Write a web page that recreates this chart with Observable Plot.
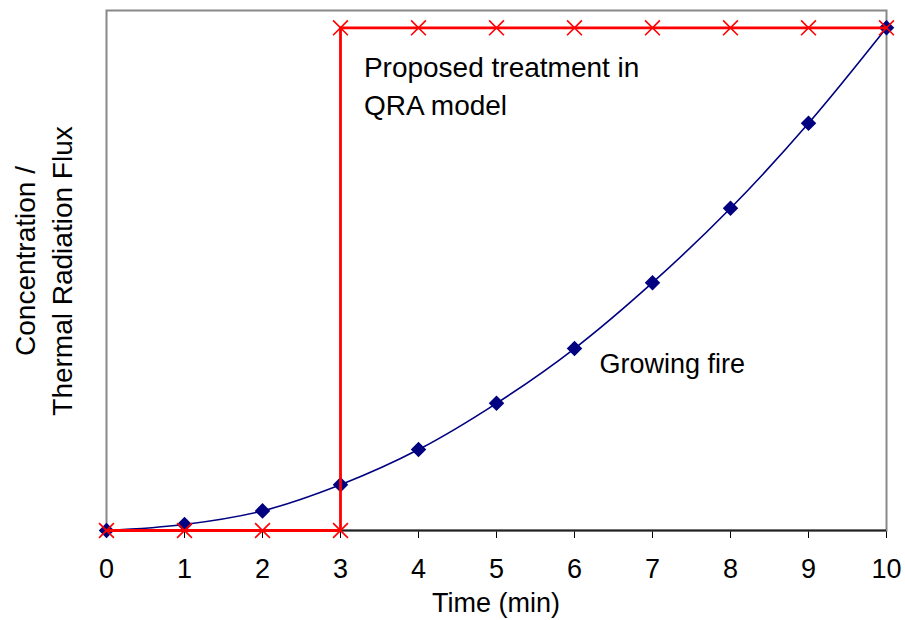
<!DOCTYPE html>
<html>
<head>
<meta charset="utf-8">
<script src="https://cdn.jsdelivr.net/npm/d3@7"></script>
<script src="https://cdn.jsdelivr.net/npm/@observablehq/plot@0.6"></script>
<style>
  body { margin: 0; background: #fff; }
  #chart svg { display: block; }
</style>
</head>
<body>
<div id="chart"></div>
<script>
// Data
const time = [0, 1, 2, 3, 4, 5, 6, 7, 8, 9, 10];
const growingFire = [0, 1.2, 3.9, 9.1, 16.1, 25.3, 36.2, 49.3, 64.1, 81, 100];
const treatmentTime = [0, 1, 2, 3, 3, 4, 5, 6, 7, 8, 9, 10];
const treatmentValue = [0, 0, 0, 0, 100, 100, 100, 100, 100, 100, 100, 100];
const xTicks = [0, 1, 2, 3, 4, 5, 6, 7, 8, 9, 10];
const xLabel = "Time (min)";
const yLabelLines = ["Concentration /", "Thermal Radiation Flux"];
const notes = [
  {x: 3.3, y: 88.8, text: "Proposed treatment in\nQRA model", size: 28},
  {x: 6.32, y: 33.6, text: "Growing fire", size: 27}
];

const fire = time.map((t, i) => ({t, v: growingFire[i]}));
const treat = treatmentTime.map((t, i) => ({t, v: treatmentValue[i]}));

const FONT = "'Liberation Sans', Arial, sans-serif";

const plot = Plot.plot({
  width: 905,
  height: 620,
  marginLeft: 106,
  marginRight: 19,
  marginTop: 10,
  marginBottom: 90,
  style: {fontFamily: FONT, fontSize: "27px", color: "#000", background: "#fff"},
  x: {domain: [0, 10], ticks: xTicks, tickFormat: d => String(d), tickSize: 8, tickPadding: 20, label: null},
  y: {domain: [0, 103.44], axis: null},
  marks: [
    Plot.frame({stroke: "#888", strokeWidth: 2}),
    Plot.ruleY([0], {stroke: "#222", strokeWidth: 2}),
    Plot.line(fire, {x: "t", y: "v", stroke: "#000080", strokeWidth: 1.6, curve: "catmull-rom"}),
    Plot.dot(fire, {x: "t", y: "v", symbol: "diamond2", r: 7, fill: "#000080", stroke: "none"}),
    Plot.line(treat, {x: "t", y: "v", stroke: "#ff0000", strokeWidth: 2.8}),
    Plot.dot(treat, {x: "t", y: "v", symbol: "times", r: 6.8, stroke: "#ff0000", strokeWidth: 1.6}),
    Plot.text(notes, {x: "x", y: "y", text: "text", fontSize: "size", textAnchor: "start", lineAnchor: "middle", lineHeight: 1.33, fill: "#000"})
  ]
});

const svg = d3.select(plot);
svg.append("text")
  .attr("x", 496).attr("y", 612)
  .attr("text-anchor", "middle")
  .attr("font-family", FONT).attr("font-size", 27).attr("fill", "#000")
  .text(xLabel);

yLabelLines.forEach((line, i) => {
  const bx = [35, 72][i];
  const cy = [261, 271][i];
  svg.append("text")
    .attr("transform", `translate(${bx},${cy}) rotate(-90)`)
    .attr("text-anchor", "middle")
    .attr("font-family", FONT).attr("font-size", 28).attr("fill", "#000")
    .text(line);
});

document.getElementById("chart").appendChild(plot);
</script>
</body>
</html>
